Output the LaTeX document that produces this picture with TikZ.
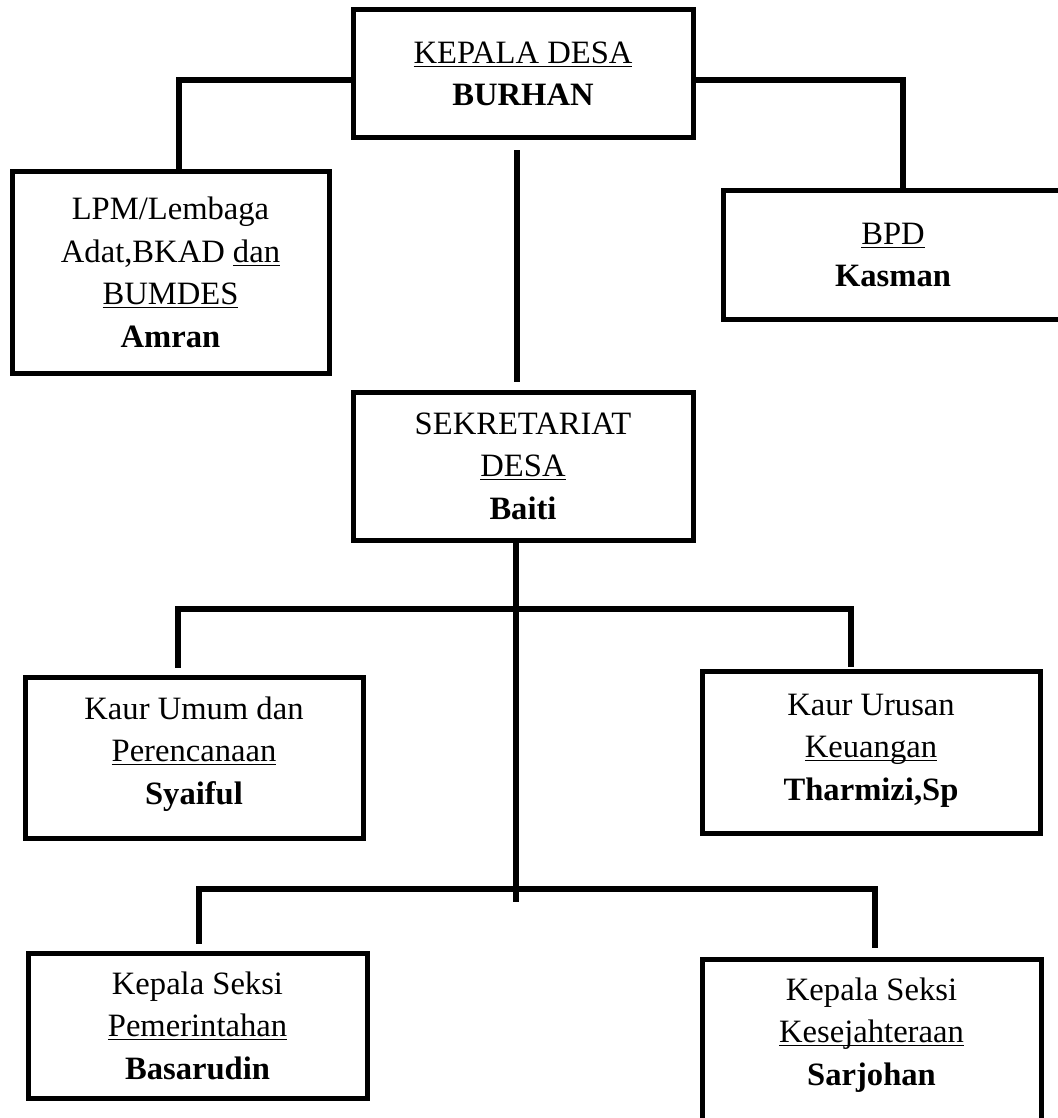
\documentclass[tikz,border=0pt]{standalone}
\usepackage{fontspec}
\setmainfont{Liberation Serif}
\newcommand{\garisbawah}[1]{\underline{\raisebox{0pt}[\height][0pt]{#1}}}
\begin{document}
\begin{tikzpicture}[x=0.5pt, y=-0.5pt,
    jabatan/.style={draw, line width=2.5pt, align=center, inner sep=0pt,
        font=\fontsize{16.3}{21.3}\selectfont},
    garis/.style={line width=2.75pt}]
    \useasboundingbox (0,0) rectangle (1058,1118);
    % kotak jabatan
    \node[jabatan, minimum width=170pt, minimum height=64pt] (kades) at (523,74) {\garisbawah{KEPALA DESA}\\ \textbf{BURHAN}};
    \node[jabatan, minimum width=158.5pt, minimum height=100.5pt] (lpm) at (170.5,272.5) {LPM/Lembaga\\ Adat,BKAD \garisbawah{dan}\\ \garisbawah{BUMDES}\\ \textbf{Amran}};
    \node[jabatan, minimum width=170pt, minimum height=64pt] (bpd) at (893,255) {\garisbawah{BPD}\\ \textbf{Kasman}};
    \node[jabatan, minimum width=170pt, minimum height=74pt] (sekdes) at (523,466) {SEKRETARIAT\\ \garisbawah{DESA}\\ \textbf{Baiti}};
    \node[jabatan, minimum width=169pt, minimum height=80.5pt, text depth=7pt] (kaurumum) at (194,757.5) {Kaur Umum dan\\ \garisbawah{Perencanaan}\\ \textbf{Syaiful}};
    \node[jabatan, minimum width=169pt, minimum height=81pt, text depth=5pt] (kaurkeu) at (871,752) {Kaur Urusan\\ \garisbawah{Keuangan}\\ \textbf{Tharmizi,Sp}};
    \node[jabatan, minimum width=169.5pt, minimum height=72.5pt] (kasipem) at (197.5,1025.5) {Kepala Seksi\\ \garisbawah{Pemerintahan}\\ \textbf{Basarudin}};
    \node[jabatan, minimum width=169.5pt, anchor=north, inner ysep=9pt, text depth=110pt] (kasikesra) at (871.5,957) {Kepala Seksi\\ \garisbawah{Kesejahteraan}\\ \textbf{Sarjohan}};
    % garis
    \coordinate (cabang1) at (516,609);
    \coordinate (cabang2) at (516,889);
    \coordinate (ujung) at (516,902);
    \draw[garis] ([yshift=-3pt]kades.west) -| ([xshift=4.25pt]lpm.north);
    \draw[garis] ([yshift=-3pt]kades.east) -| ([xshift=5pt]bpd.north);
    \draw[garis] ([xshift=-3pt,yshift=-5pt]kades.south) -- ([xshift=-3pt,yshift=4pt]sekdes.north);
    \draw[garis] ([xshift=-3.5pt]sekdes.south) -- (ujung);
    \draw[garis] ([xshift=-8pt,yshift=3.5pt]kaurumum.north) |- (cabang1) -| ([xshift=-10pt,yshift=1pt]kaurkeu.north);
    \draw[garis] ([xshift=0.75pt,yshift=3.5pt]kasipem.north) |- (cabang2) -| ([xshift=1.75pt,yshift=4.5pt]kasikesra.north);
\end{tikzpicture}
\end{document}
